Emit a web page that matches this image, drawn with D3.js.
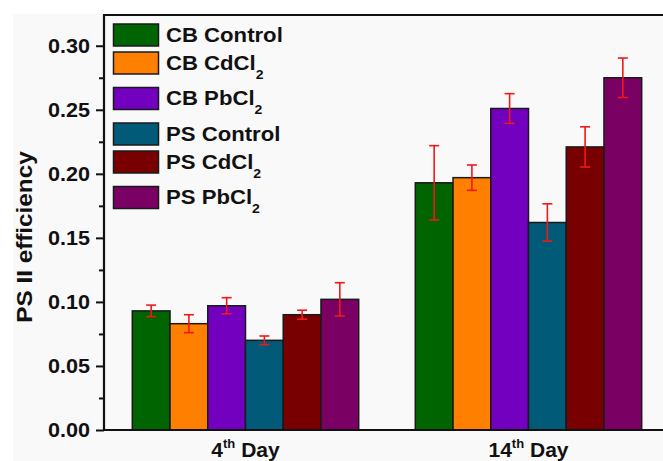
<!DOCTYPE html>
<html>
<head>
<meta charset="utf-8">
<script src="https://cdn.jsdelivr.net/npm/d3@7/dist/d3.min.js"></script>
<style>
  html, body { margin: 0; padding: 0; background: #ffffff; }
  svg { display: block; }
  text { font-family: "Liberation Sans", Arial, sans-serif; font-weight: bold; fill: #111; }
</style>
</head>
<body>
<svg id="chart" width="663" height="461"></svg>
<script>
// Groups along the x axis ("^" marks a superscript part)
const days = ["4^th Day", "14^th Day"];
// Series names ("_" marks a subscript part)
const series = ["CB Control", "CB CdCl_2", "CB PbCl_2", "PS Control", "PS CdCl_2", "PS PbCl_2"];
const colors = ["#006400", "#ff8000", "#7300be", "#005a78", "#790000", "#7a0064"];
// PS II efficiency, one value per series for each day
const day4Values  = [0.093, 0.083, 0.097, 0.070, 0.090, 0.102];
const day14Values = [0.193, 0.197, 0.251, 0.162, 0.221, 0.275];
// Error bar half-widths
const day4Errors  = [0.0045, 0.007, 0.0063, 0.0034, 0.0035, 0.013];
const day14Errors = [0.029, 0.0099, 0.0116, 0.0146, 0.0157, 0.0154];
const yTicks = [0, 0.05, 0.10, 0.15, 0.20, 0.25, 0.30];
const yMinorTicks = [0.025, 0.075, 0.125, 0.175, 0.225, 0.275];

const values = [day4Values, day14Values];
const errors = [day4Errors, day14Errors];

const svg = d3.select("#chart");
const plotLeft = 104, plotTop = 15, plotBottom = 430, plotRight = 670;
const stretch = 1.08; // slightly wide lettering

// light panel behind the plot
svg.append("rect").attr("x", 13).attr("y", 14).attr("width", 663 - 13).attr("height", 461 - 14)
  .attr("fill", "#f9f9f9");

const x0 = d3.scaleBand().domain(days).range([plotLeft, plotRight]).paddingInner(0.2).paddingOuter(0.1);
const x1 = d3.scaleBand().domain(series).range([0, x0.bandwidth()]);
const y = d3.scaleLinear().domain([0, 0.324]).range([plotBottom, plotTop]);
const color = d3.scaleOrdinal().domain(series).range(colors);

// bars
const groups = svg.append("g").selectAll("g").data(days).join("g")
  .attr("transform", d => `translate(${x0(d)},0)`);

groups.each(function(day, di) {
  const g = d3.select(this);
  const rows = series.map((s, si) => ({ s, v: values[di][si], e: errors[di][si] }));
  g.selectAll("rect").data(rows).join("rect")
    .attr("x", d => x1(d.s))
    .attr("y", d => y(d.v))
    .attr("width", x1.bandwidth())
    .attr("height", d => y(0) - y(d.v))
    .attr("fill", d => color(d.s))
    .attr("stroke", "#1a1a1a")
    .attr("stroke-width", 1.5);

  const eb = g.selectAll("g.err").data(rows).join("g").attr("class", "err")
    .attr("stroke", "#f01818").attr("stroke-width", 1.6).attr("fill", "none");
  const cx = d => x1(d.s) + x1.bandwidth() / 2;
  eb.append("line").attr("x1", cx).attr("x2", cx)
    .attr("y1", d => y(d.v + d.e)).attr("y2", d => y(d.v - d.e));
  eb.append("line").attr("x1", d => cx(d) - 5).attr("x2", d => cx(d) + 5)
    .attr("y1", d => y(d.v + d.e)).attr("y2", d => y(d.v + d.e));
  eb.append("line").attr("x1", d => cx(d) - 5).attr("x2", d => cx(d) + 5)
    .attr("y1", d => y(d.v - d.e)).attr("y2", d => y(d.v - d.e));
});

// y axis with major and minor ticks
const yAxis = d3.axisLeft(y).tickValues(yTicks).tickFormat(d3.format(".2f")).tickSize(8).tickPadding(6);
const ya = svg.append("g").attr("transform", `translate(${plotLeft},0)`).call(yAxis);
ya.select(".domain").remove();
ya.selectAll(".tick line").attr("stroke", "#111").attr("stroke-width", 2);
ya.selectAll(".tick text").attr("font-size", 20).attr("font-family", "Liberation Sans, Arial, sans-serif")
  .attr("font-weight", "bold").attr("fill", "#111")
  .attr("x", -14 / stretch).attr("transform", `scale(${stretch},1)`);

const yMinor = d3.axisLeft(y).tickValues(yMinorTicks).tickFormat("").tickSize(5);
const ym = svg.append("g").attr("transform", `translate(${plotLeft},0)`).call(yMinor);
ym.select(".domain").remove();
ym.selectAll(".tick line").attr("stroke", "#111").attr("stroke-width", 2);

// frame lines: left, bottom, top
svg.append("line").attr("x1", plotLeft).attr("x2", plotLeft).attr("y1", plotTop).attr("y2", plotBottom + 1)
  .attr("stroke", "#111").attr("stroke-width", 2.2);
svg.append("line").attr("x1", plotLeft).attr("x2", plotRight).attr("y1", plotBottom).attr("y2", plotBottom)
  .attr("stroke", "#111").attr("stroke-width", 2.2);
svg.append("line").attr("x1", plotLeft - 1).attr("x2", plotRight).attr("y1", plotTop).attr("y2", plotTop)
  .attr("stroke", "#111").attr("stroke-width", 2.2);

// x category labels with superscripts
svg.append("g").selectAll("text").data(days).join("text")
  .attr("x", d => x0(d) + x0.bandwidth() / 2)
  .attr("y", 456.5)
  .attr("text-anchor", "middle")
  .attr("font-size", 21)
  .each(function(d) {
    const [a, rest] = d.split("^");
    const sup = rest.slice(0, 2), tail = rest.slice(2);
    const t = d3.select(this);
    t.append("tspan").text(a);
    t.append("tspan").attr("font-size", 13).attr("dy", -9).text(sup);
    t.append("tspan").attr("dy", 9).text(tail);
  });

// y axis title
svg.append("text")
  .attr("transform", `translate(32,237) rotate(-90) scale(${stretch},1)`)
  .attr("text-anchor", "middle")
  .attr("font-size", 22.5)
  .text("PS II efficiency");

// legend
let ly = 24;
const legend = svg.append("g");
series.forEach((s, i) => {
  const parts = s.split("_");
  legend.append("rect").attr("x", 113.5).attr("y", ly).attr("width", 45).attr("height", 22)
    .attr("fill", colors[i]).attr("stroke", "#1a1a1a").attr("stroke-width", 1.5);
  const t = legend.append("text")
    .attr("transform", `translate(166,${ly + 17.5}) scale(${stretch},1)`)
    .attr("font-size", 20.5);
  t.append("tspan").text(parts[0]);
  if (parts.length > 1) {
    t.append("tspan").attr("font-size", 13).attr("dy", 9).text(parts[1]);
  }
  ly += parts.length > 1 ? 35.5 : 28;
});
</script>
</body>
</html>
